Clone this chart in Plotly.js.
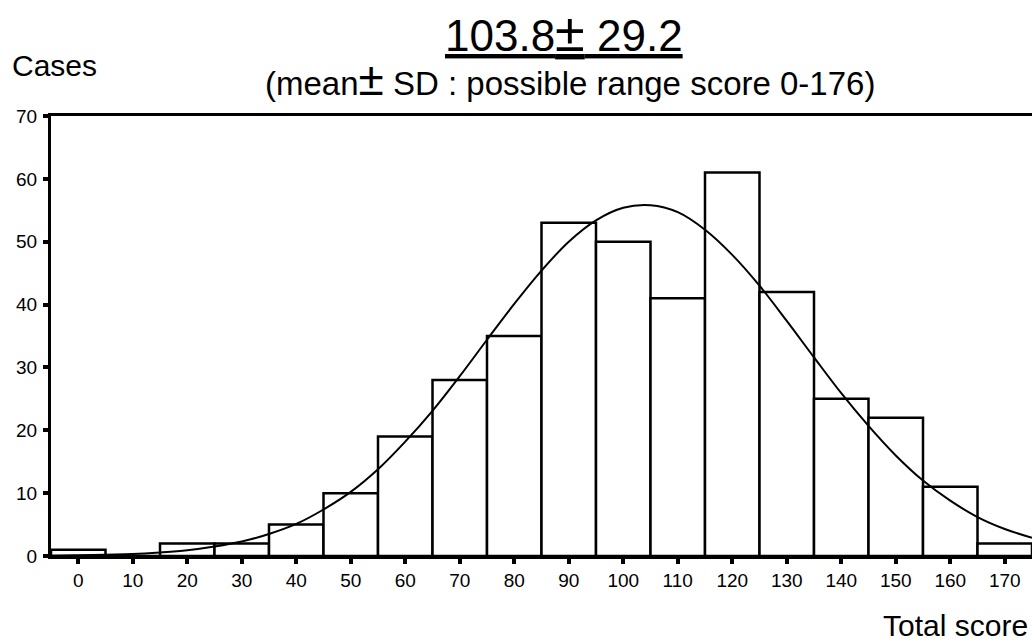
<!DOCTYPE html>
<html>
<head>
<meta charset="utf-8">
<script src="https://cdn.plot.ly/plotly-3.0.1.min.js"></script>
<style>html,body{margin:0;padding:0;background:#fff;}#chart{width:1034px;height:642px;}</style>
</head>
<body>
<div id="chart"></div>
<script>
// Histogram bins (centre of each 10-point bin) and counts
const binCentres = [0, 10, 20, 30, 40, 50, 60, 70, 80, 90, 100, 110, 120, 130, 140, 150, 160, 170];
const caseCounts = [1, 0, 2, 2, 5, 10, 19, 28, 35, 53, 50, 41, 61, 42, 25, 22, 11, 2];

// Fitted normal curve
const curveX = [-5, 0, 5, 10, 15, 20, 25, 30, 35, 40, 45, 50, 55, 60, 65, 70, 75, 80, 85, 90,
                95, 100, 105, 110, 115, 120, 125, 130, 135, 140, 145, 150, 155, 160, 165, 170, 175];
const curveY = [0.05, 0.1, 0.2, 0.3, 0.55, 0.9, 1.5, 2.3, 3.5, 5.1, 7.4, 10.2, 13.8, 18.2, 23.1, 28.6, 34.4, 40.1, 45.4, 50.0,
                53.4, 55.4, 55.8, 54.7, 51.9, 47.9, 43.0, 37.4, 31.6, 25.9, 20.7, 16.0, 12.0, 8.8, 6.2, 4.3, 2.9];

const xTicks = [0, 10, 20, 30, 40, 50, 60, 70, 80, 90, 100, 110, 120, 130, 140, 150, 160, 170];
const yTicks = [0, 10, 20, 30, 40, 50, 60, 70];

const meanText = "103.8";
const sdText = "29.2";
const subtitleStart = "(mean";
const subtitleEnd = " SD : possible range score 0-176)";
const yLabel = "Cases";
const xLabel = "Total score";

const FONT = "Liberation Sans, Arial, Helvetica, sans-serif";

const traces = [
  {
    type: "bar",
    x: binCentres,
    y: caseCounts,
    width: 10,
    marker: {color: "#ffffff", line: {color: "#000000", width: 2.5}},
    hoverinfo: "skip"
  },
  {
    type: "scatter",
    mode: "lines",
    x: curveX,
    y: curveY,
    line: {color: "#000000", width: 2, shape: "spline"},
    hoverinfo: "skip"
  }
];

const layout = {
  width: 1034,
  height: 642,
  margin: {l: 51, r: 2, t: 116, b: 86},
  paper_bgcolor: "#ffffff",
  plot_bgcolor: "#ffffff",
  showlegend: false,
  bargap: 0,
  font: {family: FONT, color: "#000000"},
  xaxis: {
    range: [-5, 175],
    tickvals: xTicks,
    ticktext: xTicks.map(String),
    ticks: "outside",
    ticklen: 5,
    tickwidth: 4,
    tickcolor: "#000000",
    ticklabelstandoff: 0,
    tickfont: {family: FONT, size: 19, color: "#000000"},
    showline: true,
    linecolor: "#000000",
    linewidth: 3,
    mirror: true,
    showgrid: false,
    zeroline: false,
    fixedrange: true
  },
  yaxis: {
    range: [0, 70],
    tickvals: yTicks,
    ticktext: yTicks.map(String),
    ticks: "outside",
    ticklen: 5,
    tickwidth: 4,
    tickcolor: "#000000",
    ticklabelstandoff: 2,
    tickfont: {family: FONT, size: 19, color: "#000000"},
    showline: true,
    linecolor: "#000000",
    linewidth: 3,
    showgrid: false,
    zeroline: false,
    fixedrange: true
  },
  annotations: [
    {text: "<u>" + meanText + "<span style=\"font-size:54px\">±</span> " + sdText + "</u>",
     xref: "paper", yref: "paper", x: 0.523, y: 1.19,
     xanchor: "center", yanchor: "middle", showarrow: false, font: {family: FONT, size: 44, color: "#000"}},
    {text: subtitleStart + "<span style=\"font-size:46px\">±</span>" + subtitleEnd,
     xref: "paper", yref: "paper", x: 0.529, y: 1.083,
     xanchor: "center", yanchor: "middle", showarrow: false, font: {family: FONT, size: 33, color: "#000"}},
    {text: yLabel, xref: "paper", yref: "paper", x: -0.042, y: 1.114,
     xanchor: "left", yanchor: "middle", showarrow: false, font: {family: FONT, size: 30, color: "#000"}},
    {text: xLabel, xref: "paper", yref: "paper", x: 0.998, y: -0.159,
     xanchor: "right", yanchor: "middle", showarrow: false, font: {family: FONT, size: 30, color: "#000"}}
  ]
};

Plotly.newPlot("chart", traces, layout, {displayModeBar: false, staticPlot: true});
</script>
</body>
</html>
